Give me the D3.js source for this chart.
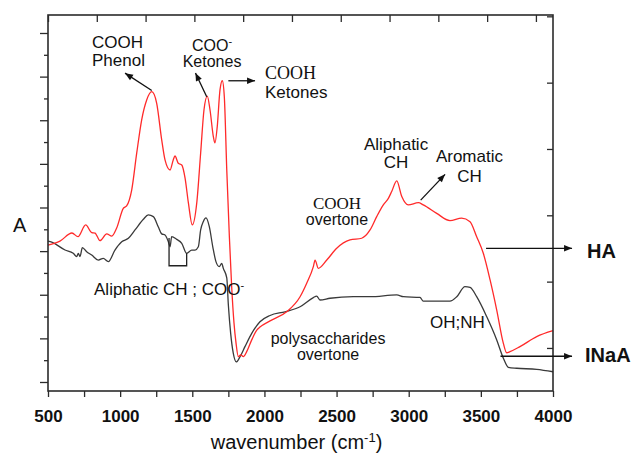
<!DOCTYPE html>
<html>
<head>
<meta charset="utf-8">
<script src="https://cdn.jsdelivr.net/npm/d3@7"></script>
<style>
  body { margin: 0; background: #fff; }
  text { font-family: "Liberation Sans", Arial, sans-serif; fill: #111; }
  .serif { font-family: "Liberation Serif", "Times New Roman", serif; }
</style>
</head>
<body>
<svg id="chart" width="634" height="453"></svg>
<script>
// FTIR spectra: humic acid (HA) and INaA, absorbance vs wavenumber
const haWavenumber = [500,583,666,708,761,803,826,860,907,942,976,1022,1045,1080,1115,1149,1184,1219,1253,1288,1311,1346,1368,1380,1403,1427,1450,1473,1500,1531,1558,1581,1604,1623,1646,1657,1673,1692,1708,1722,1739,1757,1773,1789,1803,1819,1836,1854,1877,1912,1947,1969,2039,2154,2247,2293,2339,2351,2373,2432,2501,2593,2674,2732,2778,2824,2859,2882,2917,2952,2997,3067,3101,3194,3286,3367,3425,3471,3517,3564,3610,3656,3679,3702,3771,3887,4000];
const haAbsorbance = [0.628,0.646,0.683,0.666,0.720,0.685,0.683,0.648,0.679,0.669,0.706,0.796,0.807,0.880,1.050,1.201,1.293,1.331,1.279,1.110,1.018,0.972,1.018,1.036,1.003,0.995,0.935,0.821,0.720,0.821,1.050,1.247,1.311,1.247,1.125,1.096,1.171,1.339,1.381,1.308,0.972,0.666,0.437,0.271,0.179,0.116,0.124,0.116,0.139,0.193,0.238,0.252,0.280,0.322,0.391,0.453,0.529,0.559,0.521,0.559,0.613,0.651,0.659,0.697,0.758,0.812,0.842,0.873,0.922,0.850,0.812,0.822,0.812,0.773,0.740,0.751,0.735,0.666,0.590,0.468,0.330,0.177,0.134,0.139,0.162,0.208,0.235];

const inaaWavenumber = [500,526,618,675,699,710,722,738,768,803,849,883,918,964,1011,1057,1103,1161,1195,1230,1264,1288,1311,1334,1346,1357,1392,1427,1461,1496,1519,1542,1558,1576,1595,1618,1642,1664,1687,1704,1715,1739,1750,1766,1784,1805,1831,1865,1912,1969,2039,2143,2247,2339,2362,2385,2455,2616,2732,2917,2963,3078,3101,3286,3333,3390,3425,3471,3541,3610,3656,3691,3749,3887,4000];
const inaaAbsorbance = [0.646,0.641,0.605,0.590,0.575,0.590,0.575,0.616,0.597,0.582,0.559,0.567,0.552,0.605,0.643,0.659,0.697,0.746,0.766,0.758,0.712,0.679,0.674,0.643,0.620,0.666,0.654,0.636,0.590,0.605,0.605,0.620,0.697,0.735,0.752,0.712,0.620,0.552,0.529,0.544,0.521,0.477,0.353,0.223,0.132,0.092,0.116,0.162,0.223,0.276,0.305,0.322,0.345,0.387,0.394,0.376,0.384,0.391,0.391,0.399,0.391,0.388,0.371,0.371,0.391,0.437,0.434,0.391,0.299,0.193,0.109,0.067,0.063,0.058,0.047];

const xTickLabels = [500,1000,1500,2000,2500,3000,3500,4000];
const xMinorTicks = d3.range(500, 4001, 250);
const yTicks = d3.range(0, 17).map(i => i / 10);

// Bracket under the 1340–1460 cm-1 band of INaA
const bracketPoints = [[1339,0.66],[1339,0.533],[1461,0.533],[1461,0.59]];

// Band assignment labels: position of the first baseline [wavenumber, absorbance], lines
const bandLabels = [
  { at: [805, 1.531],  lines: ["COOH", "Phenol"], anchor: "start", lead: 18, size: 17 },
  { at: [1637, 1.518], lines: ["COO", "Ketones"], anchor: "middle", lead: 16.5, size: 16, sup: "-" },
  { at: [2004, 1.389], lines: ["COOH", "Ketones"], anchor: "start", lead: 19, size: 17, serifFirst: true },
  { at: [2912, 1.064], lines: ["Aliphatic", "CH"], anchor: "middle", lead: 18, size: 17 },
  { at: [3421, 1.007], lines: ["Aromatic", "CH"], anchor: "middle", lead: 19.5, size: 17 },
  { at: [2503, 0.794], lines: ["COOH", "overtone"], anchor: "middle", lead: 16.5, size: 16, serifFirst: true },
  { at: [2441, 0.175], lines: ["polysaccharides", "overtone"], anchor: "middle", lead: 16.5, size: 16 },
  { at: [3148, 0.248], lines: ["OH;NH"], anchor: "start", lead: 0, size: 17 },
  { at: [819, 0.399],  lines: ["Aliphatic CH ; COO"], anchor: "start", lead: 0, size: 17, sup: "-" }
];

// Pointer arrows: from → to (tip), in data units
const pointerArrows = [
  [[1219, 1.336], [1034, 1.416]],
  [[1600, 1.308], [1522, 1.417]],
  [[1750, 1.381], [1935, 1.381]],
  [[3083, 0.834], [3252, 0.952]],
  [[3536, 0.613], [4132, 0.613]],
  [[3636, 0.118], [4132, 0.118]]
];
const seriesTags = [
  { name: "HA", at: [4236, 0.569] },
  { name: "INaA", at: [4222, 0.092] }
];

const svg = d3.select("#chart");
const plotLeft = 48, plotRight = 553, plotTop = 15, plotBottom = 391;

const x = d3.scaleLinear().domain([500, 4000]).range([plotLeft, plotRight]);
const y = d3.scaleLinear().domain([-0.0413, 1.6825]).range([plotBottom, plotTop]);
// secondary scales of the frame (unlabelled ticks on top and right)
const xTop = d3.scaleLinear().domain([0, 10.35]).range([plotLeft, plotRight]);
const yRight = d3.scaleLinear().domain([0.351, 6.02]).range([plotBottom, plotTop]);

const frameColor = "#2b2b2b";

// axes
const gBottom = svg.append("g").attr("transform", `translate(0,${plotBottom})`)
  .call(d3.axisBottom(x).tickValues(xMinorTicks).tickSize(6).tickFormat(""));
const gBottomLabels = svg.append("g").attr("transform", `translate(0,${plotBottom})`)
  .call(d3.axisBottom(x).tickValues(xTickLabels).tickSize(0).tickPadding(19).tickFormat(d3.format("d")));
gBottomLabels.selectAll("text").attr("font-size", 17).attr("font-weight", "bold").attr("fill", "#111");

const gTop = svg.append("g").attr("transform", `translate(0,${plotTop})`)
  .call(d3.axisBottom(xTop).tickValues(d3.range(0, 11)).tickSize(7).tickFormat(""));

const gLeft = svg.append("g").attr("transform", `translate(${plotLeft},0)`)
  .call(d3.axisLeft(y).tickValues(yTicks).tickSize(4).tickFormat(""));
gLeft.selectAll(".tick line").attr("x2", (d, i) => (i % 2 === 0 ? -8 : -4));

const gRight = svg.append("g").attr("transform", `translate(${plotRight},0)`)
  .call(d3.axisRight(yRight).tickValues(d3.range(1, 7)).tickSize(-6).tickFormat(""));

[gBottom, gBottomLabels, gTop, gLeft, gRight].forEach(g => {
  g.select(".domain").remove();
  g.selectAll(".tick line").attr("stroke", frameColor).attr("stroke-width", 1.3);
});

// spectra
const line = d3.line().x(d => x(d[0])).y(d => y(d[1])).curve(d3.curveMonotoneX);
const inaaPoints = d3.zip(inaaWavenumber, inaaAbsorbance);
const haPoints = d3.zip(haWavenumber, haAbsorbance);
svg.append("path").datum(inaaPoints).attr("d", line)
  .attr("fill", "none").attr("stroke", "#3a3a3a").attr("stroke-width", 1.3);
svg.append("path").datum(haPoints).attr("d", line)
  .attr("fill", "none").attr("stroke", "#ff2a2a").attr("stroke-width", 1.3);

// plot frame
svg.append("rect").attr("x", plotLeft).attr("y", plotTop)
  .attr("width", plotRight - plotLeft).attr("height", plotBottom - plotTop)
  .attr("fill", "none").attr("stroke", frameColor).attr("stroke-width", 1.6);

// bracket
svg.append("path").datum(bracketPoints)
  .attr("d", d3.line().x(d => x(d[0])).y(d => y(d[1])))
  .attr("fill", "none").attr("stroke", "#222").attr("stroke-width", 1.3);

// arrows
svg.append("defs").append("marker")
  .attr("id", "tip").attr("viewBox", "0 0 10 10").attr("refX", 10).attr("refY", 5)
  .attr("markerUnits", "userSpaceOnUse").attr("markerWidth", 10).attr("markerHeight", 8)
  .attr("orient", "auto")
  .append("path").attr("d", "M0,1 L10,5 L0,9 Z").attr("fill", "#111");

svg.selectAll("line.pointer").data(pointerArrows).join("line")
  .attr("class", "pointer")
  .attr("x1", d => x(d[0][0])).attr("y1", d => y(d[0][1]))
  .attr("x2", d => x(d[1][0])).attr("y2", d => y(d[1][1]))
  .attr("stroke", "#111").attr("stroke-width", 1.3).attr("marker-end", "url(#tip)");

// band labels: one text element per label, one tspan row per line
bandLabels.forEach(lb => {
  const px = x(lb.at[0]);
  const t = svg.append("text")
    .attr("x", px).attr("y", y(lb.at[1]))
    .attr("text-anchor", lb.anchor)
    .attr("font-size", lb.size);
  lb.lines.forEach((txt, i) => {
    const row = t.append("tspan").attr("x", px).attr("dy", i === 0 ? 0 : lb.lead).text(txt);
    if (i === 0 && lb.serifFirst) row.attr("class", "serif").attr("font-size", lb.size + 1);
    if (i === 0 && lb.sup) {
      t.append("tspan").attr("baseline-shift", "super").attr("font-size", 11).text(lb.sup);
    }
  });
});

// series tags
svg.selectAll("text.tag").data(seriesTags).join("text")
  .attr("class", "tag")
  .attr("x", d => x(d.at[0])).attr("y", d => y(d.at[1]))
  .attr("font-size", 20).attr("font-weight", "bold")
  .text(d => d.name);

// axis titles
svg.append("text").attr("x", 13).attr("y", 232).attr("font-size", 20).text("A");
const xt = svg.append("text").attr("x", (plotLeft + plotRight) / 2 - 4).attr("y", 449)
  .attr("text-anchor", "middle").attr("font-size", 20);
xt.append("tspan").text("wavenumber (cm");
xt.append("tspan").attr("baseline-shift", "super").attr("font-size", 13).text("-1");
xt.append("tspan").text(")");
</script>
</body>
</html>
